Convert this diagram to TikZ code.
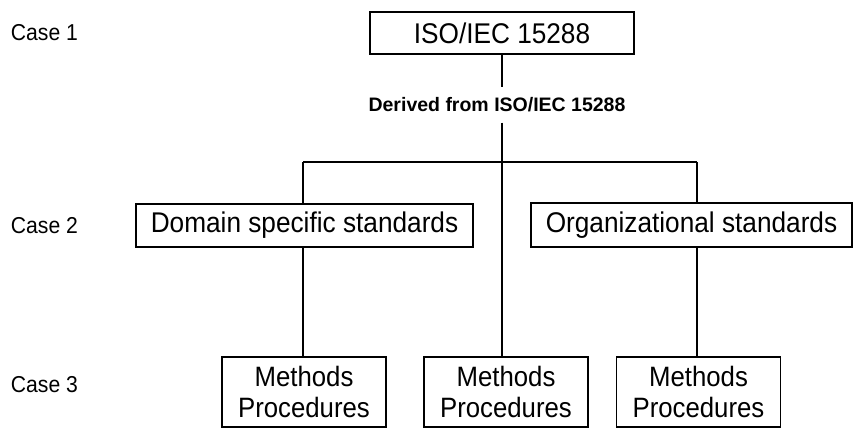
\documentclass[tikz,border=0pt]{standalone}
\usepackage{fontspec}
\setmainfont{Liberation Sans}[FakeStretch=0.92]
\newfontfamily\lblfont{Liberation Sans Bold}
\begin{document}
\begin{tikzpicture}[x=1pt, y=-1pt, line width=1.2pt,
    box/.style = {draw, inner sep=0pt, align=center, font=\fontsize{28.5}{32}\selectfont},
    mpbox/.style = {box, minimum width=164pt, minimum height=70pt, font=\fontsize{28}{31}\selectfont},
    case/.style = {anchor=west, font=\fontsize{23}{27}\selectfont}]
    \useasboundingbox (0,0) rectangle (857,429);
    % case labels
    \node[case] (c1) at (7,33) {Case 1};
    \node[case] (c2) at (7,226) {Case 2};
    \node[case] (c3) at (7,385) {Case 3};
    % boxes
    \node[box, minimum width=264pt, minimum height=42pt] (iso) at (502,33) {ISO/IEC 15288};
    \node[inner sep=0pt, minimum height=34pt, font=\lblfont\fontsize{19.5}{22}\selectfont] (derived) at (497,105) {Derived from ISO/IEC 15288};
    \node[box, minimum width=337pt, minimum height=43pt] (dom) at (304.5,225.5) {Domain specific standards};
    \node[box, minimum width=321pt, minimum height=44pt] (org) at (691.5,225) {Organizational standards};
    \node[mpbox] (mp1) at (304,392) {Methods\\Procedures};
    \node[mpbox] (mp2) at (506,392) {Methods\\Procedures};
    \node[mpbox] (mp3) at (698.5,392) {Methods\\Procedures};
    % junctions
    \coordinate (jl) at (303,162);
    \coordinate (jm) at (502,162);
    \coordinate (jr) at (697,162);
    \draw (iso.south -| jm) -- (jm |- derived.north);
    \draw (derived.south -| jm) -- (jm);
    \draw (jl) -- (jr);
    \draw (jl) -- (jl |- dom.north);
    \draw (jr) -- (jr |- org.north);
    \draw (jm) -- (jm |- mp2.north);
    \draw (dom.south -| jl) -- (jl |- mp1.north);
    \draw (org.south -| jr) -- (jr |- mp3.north);
\end{tikzpicture}
\end{document}
